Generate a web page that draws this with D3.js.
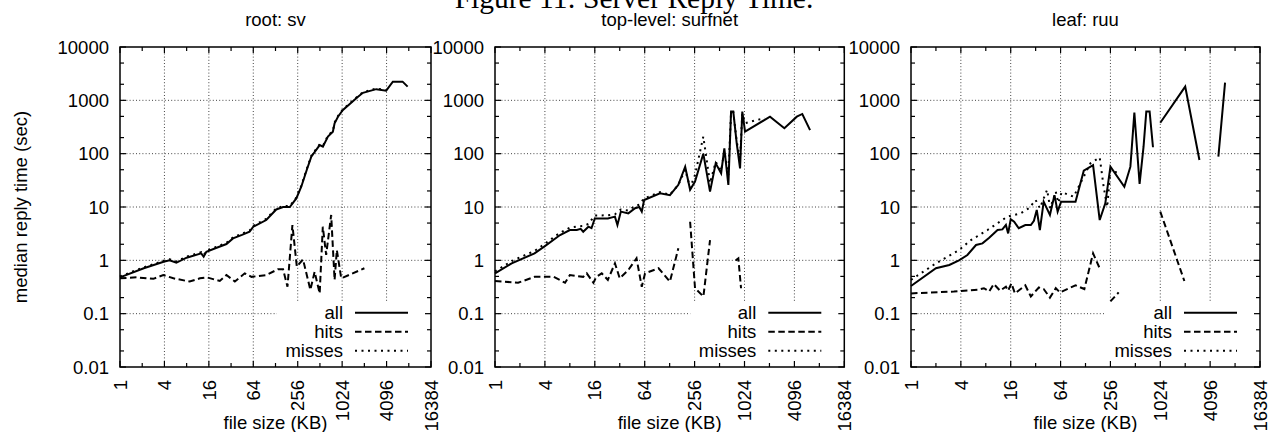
<!DOCTYPE html>
<html>
<head>
<meta charset="utf-8">
<script src="https://cdn.jsdelivr.net/npm/d3@7/dist/d3.min.js"></script>
<style>
  body { margin: 0; background: #fff; }
  text { font-family: "Liberation Sans", Arial, sans-serif; font-size: 18.5px; fill: #000; }
  .title { font-family: "Liberation Serif", "Times New Roman", serif; font-size: 29.5px; }
</style>
</head>
<body>
<svg id="chart" width="1268" height="432"></svg>
<script>
var svg = d3.select("#chart");

// Data: [file size (KB), median reply time (sec)]; null = gap
var svAll = [[1,0.48],[2.1,0.71],[3.9,0.94],[4.7,1.0],[5.8,0.9],[8,1.12],[12.6,1.35],[13.6,1.17],[14.8,1.45],[20,1.7],
  [27.7,2.02],[34,2.58],[45,3.0],[57,3.44],[64,4.27],[96,5.7],[131,9.0],[162,10],[200,10],[245,14.5],[286,24],[340,50],
  [391,88],[508,145],[562,135],[657,209],[767,258],[809,372],[899,493],[1050,661],[1680,1170],[1960,1385],[2970,1620],
  [4050,1520],[4980,2240],[6750,2240],[7900,1810]];
var svHits = [[1,0.46],[1.68,0.48],[2.83,0.45],[3.86,0.53],[5.3,0.46],[8.8,0.40],[12.1,0.46],[14.9,0.48],[22.5,0.41],
  [27.7,0.53],[36,0.40],[49,0.57],[60.5,0.49],[96,0.53],[138,0.68],[162,0.68],[186,0.32],[217,4.6],[249,0.76],[302,1.04],
  [380,0.28],[434,0.61],[508,0.24],[560,4.27],[622,1.26],[727,7.1],[809,0.43],[868,1.56],[995,0.46],[2050,0.71]];
var svMisses = [[1,0.5],[2.1,0.74],[3.9,0.98],[4.7,1.05],[5.8,0.95],[8,1.17],[12.6,1.42],[13.6,1.25],[14.8,1.52],[20,1.78],
  [27.7,2.12],[34,2.7],[45,3.15],[57,3.6],[64,4.45],[96,6.0],[131,9.4],[162,10.4],[200,10.4],[245,15],[286,25],[340,52],
  [391,92],[508,150],[562,140],[657,218],[767,268],[809,385],[899,510],[1050,680],[1680,1200],[1960,1420],[2970,1660],
  [4050,1550]];

var sfAll = [[1,0.57],[1.59,0.88],[3,1.35],[4,1.85],[6.1,2.98],[8,3.7],[9.7,3.7],[10.8,3.9],[11.6,3.44],[13.4,4.27],
  [14.6,4.0],[16,6.1],[23,6.1],[28,6.6],[30,4.6],[33,8.2],[40.6,7.6],[49,9.5],[55,10],[59,8.2],[63,13.5],[98,18],
  [129,16.7],[163,26],[197,57],[226,21],[259,30],[326,100],[393,19.4],[460,66],[535,43],[585,126],[654,26],[705,615],
  [750,615],[825,156],[905,53],[963,615],[1040,258],[2080,494],[3100,300],[4380,494],[5100,555],[6330,277]];
var sfHits = [[1,0.41],[1.9,0.38],[3,0.49],[5.1,0.49],[7,0.38],[8,0.53],[11.6,0.49],[12.8,0.57],[15.4,0.38],[16.7,0.49],
  [19.4,0.57],[23,0.43],[28,0.88],[32,0.46],[40.6,0.66],[51,1.09],[59,0.32],[64.6,0.57],[94,0.71],[129,0.40],[163,1.68],
  [190,null],[226,5.3],[259,0.30],[327,0.21],[393,2.4],[600,null],[803,1.0],[863,1.09],[930,0.30]];
var sfMisses = [[1,0.62],[1.59,0.97],[3,1.5],[4,2.05],[6.1,3.3],[8,4.1],[9.7,4.3],[11.6,4.4],[13.4,4.8],[16,6.9],[23,7.0],
  [28,7.3],[33,9.0],[40.6,8.6],[49,10.5],[55,11],[63,14.5],[98,19],[129,17],[163,26],[197,50],[226,23],[259,40],[326,209],
  [393,28],[460,70],[535,48],[585,110],[654,40],[705,600],[750,600],[825,170],[905,80],[963,560],[1040,372],[1450,430],
  [1800,460]];

var ruAll = [[1,0.33],[2,0.71],[2.9,0.82],[3.8,1.0],[4.8,1.26],[6.1,1.94],[7.3,2.08],[8.8,2.65],[11.1,3.7],[12.7,3.8],
  [14,4.6],[14.9,3.2],[16,5.9],[17.6,5.3],[20,4.0],[24,4.6],[28,4.6],[30.5,5.5],[33,8.8],[36,3.7],[40,12.6],[47.6,7.1],
  [54,16.7],[59,8.2],[65,12.6],[97,12.6],[122,48],[158,61],[190,5.7],[222,11.7],[256,57],[377,24],[446,57],[498,590],
  [576,27],[643,135],[694,615],[761,615],[836,132],[930,null],[1024,380],[2048,1810],[3040,76],[4000,null],[5150,88],
  [6200,2140]];
var ruHits = [[1,0.24],[3.3,0.26],[6.4,0.28],[7.6,0.30],[8.8,0.26],[10,0.36],[11.9,0.27],[14,0.32],[14.9,0.27],[16.3,0.37],
  [18,0.24],[24,0.34],[28,0.21],[35,0.31],[40,0.29],[47.6,0.20],[56,0.30],[63,0.25],[97,0.34],[124,0.29],[158,1.35],
  [190,0.71],[220,null],[256,0.17],[322,0.25],[500,null],[1024,8.2],[2000,0.41]];
var ruMisses = [[1,0.43],[2,0.88],[3.8,1.56],[5.3,2.4],[8.4,3.7],[14.6,6.6],[21,7.6],[26.6,9.5],[32,13.5],[36,9.5],[44,21],
  [48,9.5],[56,19.4],[60,12],[66,19],[92,15.6],[147,66],[190,85],[212,24],[234,10],[256,49],[322,43]];

var xTicks = [1, 4, 16, 64, 256, 1024, 4096, 16384];
var xMinor = [2, 8, 32, 128, 512, 2048, 8192];
var yTicks = [0.01, 0.1, 1, 10, 100, 1000, 10000];
var yTickLabels = ["0.01", "0.1", "1", "10", "100", "1000", "10000"];
var yMinor = [0.02, 0.05, 0.2, 0.5, 2, 5, 20, 50, 200, 500, 2000, 5000];
var legendNames = ["all", "hits", "misses"];
var dashes = [null, "6.5,3.5", "2,4.5"];

var panels = [
  { title: "root: sv", left: 120, right: 431, series: [svAll, svHits, svMisses] },
  { title: "top-level: surfnet", left: 495, right: 844.3, series: [sfAll, sfHits, sfMisses] },
  { title: "leaf: ruu", left: 911, right: 1260, series: [ruAll, ruHits, ruMisses] }
];
var plotTop = 47, plotBottom = 367;

svg.append("text").attr("class", "title")
   .attr("x", 634).attr("y", 7.5)
   .attr("text-anchor", "middle")
   .text("Figure 11: Server Reply Time.");

svg.append("text")
   .attr("transform", "translate(27," + (plotTop + plotBottom) / 2 + ") rotate(-90)")
   .attr("text-anchor", "middle")
   .text("median reply time (sec)");

panels.forEach(function(p) {
  var x = d3.scaleLog().base(2).domain([1, 16384]).range([p.left, p.right]);
  var y = d3.scaleLog().domain([0.01, 10000]).range([plotBottom, plotTop]);
  var g = svg.append("g");

  // grid
  g.selectAll(".gx").data(xTicks.slice(1, -1)).enter().append("line")
   .attr("x1", d => x(d)).attr("x2", d => x(d)).attr("y1", plotTop).attr("y2", plotBottom)
   .attr("stroke", "#444").attr("stroke-width", 1).attr("stroke-dasharray", "1,2.2");
  g.selectAll(".gy").data(yTicks.slice(1, -1)).enter().append("line")
   .attr("x1", p.left).attr("x2", p.right).attr("y1", d => y(d)).attr("y2", d => y(d))
   .attr("stroke", "#444").attr("stroke-width", 1).attr("stroke-dasharray", "1,2.2");

  // key background
  g.append("rect").attr("x", p.right - 154).attr("y", 303)
   .attr("width", 154).attr("height", plotBottom - 303).attr("fill", "#fff");

  // data
  var line = d3.line().defined(d => d[1] != null).x(d => x(d[0])).y(d => y(d[1]));
  [2, 1, 0].forEach(function(i) {
    g.append("path").datum(p.series[i]).attr("d", line)
     .attr("fill", "none").attr("stroke", "#000").attr("stroke-width", 2)
     .attr("stroke-linejoin", "miter").attr("stroke-dasharray", dashes[i]);
  });

  // frame
  g.append("rect").attr("x", p.left).attr("y", plotTop)
   .attr("width", p.right - p.left).attr("height", plotBottom - plotTop)
   .attr("fill", "none").attr("stroke", "#000").attr("stroke-width", 1.5);

  // ticks
  function xtick(vals, len) {
    vals.forEach(function(v) {
      g.append("line").attr("x1", x(v)).attr("x2", x(v)).attr("y1", plotBottom).attr("y2", plotBottom - len).attr("stroke", "#000").attr("stroke-width", 1.2);
      g.append("line").attr("x1", x(v)).attr("x2", x(v)).attr("y1", plotTop).attr("y2", plotTop + len).attr("stroke", "#000").attr("stroke-width", 1.2);
    });
  }
  function ytick(vals, len) {
    vals.forEach(function(v) {
      g.append("line").attr("x1", p.left).attr("x2", p.left + len).attr("y1", y(v)).attr("y2", y(v)).attr("stroke", "#000").attr("stroke-width", 1.2);
      g.append("line").attr("x1", p.right).attr("x2", p.right - len).attr("y1", y(v)).attr("y2", y(v)).attr("stroke", "#000").attr("stroke-width", 1.2);
    });
  }
  xtick(xTicks, 6); xtick(xMinor, 4);
  ytick(yTicks, 6); ytick(yMinor, 4);

  // tick labels
  g.selectAll(".xl").data(xTicks).enter().append("text")
   .attr("transform", d => "translate(" + x(d) + ",380) rotate(-90)")
   .attr("text-anchor", "end").attr("dy", "0.36em")
   .text(d => d);
  g.selectAll(".yl").data(yTicks).enter().append("text")
   .attr("x", p.left - 11).attr("y", d => y(d)).attr("dy", "0.36em")
   .attr("text-anchor", "end")
   .text((d, i) => yTickLabels[i]);

  // titles
  g.append("text").attr("x", (p.left + p.right) / 2).attr("y", 26)
   .attr("text-anchor", "middle").text(p.title);
  g.append("text").attr("x", (p.left + p.right) / 2).attr("y", 429)
   .attr("text-anchor", "middle").text("file size (KB)");

  // key
  legendNames.forEach(function(name, i) {
    var ky = 312.7 + i * 19;
    g.append("text").attr("x", p.right - 88).attr("y", ky).attr("dy", "0.36em")
     .attr("text-anchor", "end").text(name);
    g.append("line").attr("x1", p.right - 76).attr("x2", p.right - 23)
     .attr("y1", ky).attr("y2", ky)
     .attr("stroke", "#000").attr("stroke-width", 2).attr("stroke-dasharray", dashes[i]);
  });
});
</script>
</body>
</html>
